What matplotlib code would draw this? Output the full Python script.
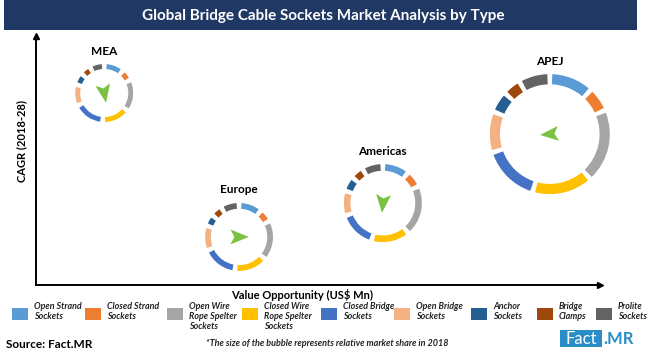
"""Bolhas em anel: mercado de soquetes para cabos de ponte por região e tipo."""

import numpy as np

import matplotlib

matplotlib.use("Agg")
import matplotlib.pyplot as plt
from matplotlib.patches import Wedge, Rectangle, PathPatch
from matplotlib.path import Path
from matplotlib.transforms import Affine2D

plt.rcParams["font.family"] = ["Lato", "DejaVu Sans"]

# ---- dados -------------------------------------------------------------
tipos = [
    "Open Strand\nSockets", "Closed Strand\nSockets",
    "Open Wire\nRope Spelter\nSockets", "Closed Wire\nRope Spelter\nSockets",
    "Closed Bridge\nSockets", "Open Bridge\nSockets", "Anchor\nSockets",
    "Bridge\nClamps", "Prolite\nSockets",
]
cores = ["#5B9BD5", "#ED7D31", "#A5A5A5", "#FFC000", "#4472C4",
         "#F4B183", "#255E91", "#9E480E", "#636363"]

regioes = ["MEA", "Europe", "Americas", "APEJ"]
oportunidade = [12.1, 36.0, 61.5, 91.1]   # eixo x (relativo)
cagr = [77.1, 19.3, 32.9, 60.6]           # eixo y (relativo)
participacao = [11.8, 16.2, 21.4, 50.6]   # tamanho da bolha (% 2018)

mix_mea = [11, 5, 20, 17, 19, 12, 5, 4, 7]
mix_europe = [11, 5, 21, 17, 18, 12, 4, 4, 8]
mix_americas = [11, 6, 23, 17, 16, 10, 5, 4, 8]
mix_apej = [12, 6, 21, 17, 16, 11, 5, 4, 8]
mixes = [mix_mea, mix_europe, mix_americas, mix_apej]

direcao_seta = [-80, 0, -95, 185]  # graus

# ---- layout ------------------------------------------------------------
W, H = 650, 357
AZUL_TITULO = "#203864"
VERDE = "#7CC242"
AZUL_LOGO = "#2A8DC6"
LARG_ANEL = 0.17
GAP_PX = 5.0
K_RAIO = 60 / np.sqrt(50.6)  # px por sqrt(%)


def px(x, y):
    """pixel (topo-esquerda) -> fração da figura"""
    return x / W, 1 - y / H


fig = plt.figure(figsize=(W / 100, H / 100), dpi=100)

# faixa do título
fig.patches.append(Rectangle(px(4, 30), 633 / W, 30 / H, transform=fig.transFigure,
                             facecolor=AZUL_TITULO, edgecolor="none"))
fig.text(*px(323, 16), "Global Bridge Cable Sockets Market Analysis by Type",
         color="white", fontsize=11, weight="bold", ha="center", va="center")

ax = fig.add_axes([36 / W, 1 - 285 / H, 564 / W, 249 / H])
ax.set_xlim(0, 100)
ax.set_ylim(0, 100)
ax.set_xticks([])
ax.set_yticks([])
for lado in ("top", "right"):
    ax.spines[lado].set_visible(False)
for lado in ("left", "bottom"):
    ax.spines[lado].set_linewidth(1.4)
ax.plot(1, 0, ">", color="black", ms=4, transform=ax.transAxes, clip_on=False)
ax.plot(0, 1, "^", color="black", ms=4, transform=ax.transAxes, clip_on=False)

fig.text(*px(22, 141), "CAGR (2018-28)", rotation=90, fontsize=8, weight="bold",
         ha="center", va="center")
fig.text(*px(302, 295), "Value Opportunity (US$ Mn)", fontsize=8, weight="bold",
         ha="center", va="center")

# seta (ponteiro verde)
seta = Path([(1, 0), (-0.6, 0.65), (-0.25, 0), (-0.6, -0.65), (1, 0)],
            [Path.MOVETO, Path.LINETO, Path.LINETO, Path.LINETO, Path.CLOSEPOLY])

fig.canvas.draw()
for nome, x, y, share, mix, ang in zip(regioes, oportunidade, cagr, participacao,
                                        mixes, direcao_seta):
    cx, cy = ax.transData.transform((x, y))
    r = K_RAIO * np.sqrt(share)
    sub = fig.add_axes([(cx - r) / W, (cy - r) / H, 2 * r / W, 2 * r / H])
    sub.set_xlim(-1, 1)
    sub.set_ylim(-1, 1)
    sub.axis("off")
    gap = np.degrees(GAP_PX / r)
    livre = 360 - gap * len(mix)
    inicio = 90 - gap / 2
    total = sum(mix)
    for v, c in zip(mix, cores):
        arco = v / total * livre
        sub.add_patch(Wedge((0, 0), 1, inicio - arco, inicio, width=LARG_ANEL,
                            facecolor=c, edgecolor="none"))
        inicio -= arco + gap
    s = 11.5 / r
    forma = seta.transformed(Affine2D().translate(-0.15, 0).scale(s).rotate_deg(ang))
    sub.add_patch(PathPatch(forma, facecolor=VERDE, edgecolor="none"))
    ax.annotate(nome, (x, y), xytext=(0, r + 13), textcoords="offset pixels",
                ha="center", va="center", fontsize=8.5, weight="bold")

# legenda manual
leg_x = [12, 85, 167, 242, 321, 394, 471, 537, 596]
for lx, rot, c in zip(leg_x, tipos, cores):
    fig.patches.append(Rectangle(px(lx, 320), 16 / W, 12 / H,
                                 transform=fig.transFigure, facecolor=c,
                                 edgecolor="none"))
    fig.text(*px(lx + 22, 302), rot, fontsize=6.4, weight="bold", style="italic",
             ha="left", va="top", linespacing=1.15, color="#222222")

# rodapé
fig.text(*px(6, 344), "Source: Fact.MR", fontsize=8.5, weight="bold",
         ha="left", va="center")
fig.text(*px(327, 344), "*The size of the bubble represents relative market share in 2018",
         fontsize=6.5, weight="bold", style="italic", ha="center", va="center",
         color="#222222")
fig.patches.append(Rectangle(px(560, 347), 42 / W, 17 / H, transform=fig.transFigure,
                             facecolor=AZUL_LOGO, edgecolor="none"))
fig.text(*px(581, 339), "Fact", fontsize=12, color="white", ha="center", va="center")
fig.text(*px(603, 339), ".MR", fontsize=12, color=AZUL_LOGO, weight="bold",
         ha="left", va="center")

fig.savefig("out.png", dpi=100)
